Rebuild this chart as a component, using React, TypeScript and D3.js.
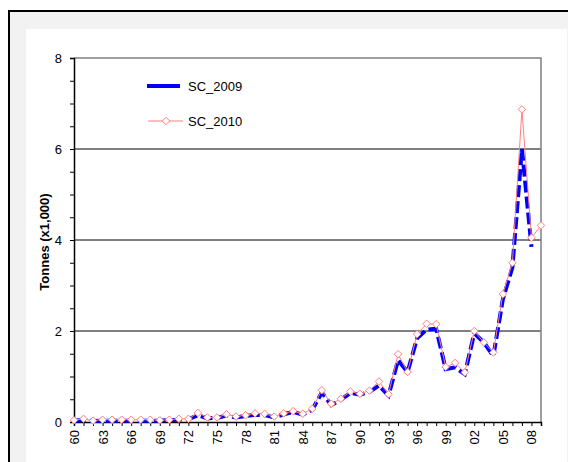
import * as d3 from 'd3';
import React, { useEffect, useRef } from 'react';

const years = d3.range(1960, 2010);

const sc2010 = [
	0.04, 0.07, 0.03, 0.05, 0.05, 0.05, 0.05, 0.05, 0.05, 0.04,
	0.05, 0.07, 0.07, 0.2, 0.1, 0.1, 0.17, 0.12, 0.15, 0.19,
	0.18, 0.12, 0.19, 0.24, 0.18, 0.29, 0.7, 0.4, 0.51, 0.67,
	0.62, 0.69, 0.89, 0.61, 1.49, 1.1, 1.93, 2.16, 2.15, 1.21,
	1.3, 1.09, 2.0, 1.75, 1.53, 2.81, 3.5, 6.87, 4.05, 4.32,
];

const sc2009 = [
	0.03, 0.05, 0.02, 0.03, 0.03, 0.03, 0.03, 0.03, 0.03, 0.03,
	0.04, 0.05, 0.06, 0.15, 0.08, 0.09, 0.14, 0.1, 0.13, 0.16,
	0.15, 0.1, 0.17, 0.22, 0.16, 0.27, 0.65, 0.37, 0.49, 0.64,
	0.6, 0.66, 0.8, 0.58, 1.36, 1.1, 1.84, 2.03, 2.05, 1.16,
	1.2, 1.05, 1.95, 1.75, 1.45, 2.7, 3.4, 6.0, 3.85,
];

const yTicks = [0, 2, 4, 6, 8];

const seriesNames = ['SC_2009', 'SC_2010'];

export default function App(): React.JSX.Element {
	const ref = useRef<SVGSVGElement | null>(null);

	useEffect(() => {
		if (ref.current === null) return;
		const svg = d3.select(ref.current);
		svg.selectAll('*').remove();

		const margin = { top: 58, right: 27, bottom: 40, left: 74 };
		const width = 568;

		// chart frame
		svg.append('rect')
			.attr('x', 9).attr('y', 11)
			.attr('width', 600).attr('height', 500)
			.attr('fill', '#f2f2f2')
			.attr('stroke', '#000')
			.attr('stroke-width', 2);
		svg.append('rect')
			.attr('x', 26).attr('y', 29)
			.attr('width', 541).attr('height', 480)
			.attr('fill', '#fff');

		const x = d3.scaleLinear()
			.domain([1960, 2009])
			.range([margin.left, width - margin.right]);
		const y = d3.scaleLinear()
			.domain([0, 8])
			.range([422, margin.top]);

		// gridlines
		svg.append('g')
			.selectAll('line')
			.data(yTicks.filter(t => t > 0 && t < 8))
			.enter()
			.append('line')
			.attr('x1', margin.left).attr('x2', x(2009))
			.attr('y1', d => y(d)).attr('y2', d => y(d))
			.attr('stroke', '#000')
			.attr('stroke-width', 1);

		// plot border top/right
		svg.append('path')
			.attr('d', `M${margin.left},${y(8)}H${x(2009)}V${y(0)}`)
			.attr('fill', 'none')
			.attr('stroke', '#808080')
			.attr('stroke-width', 1.5);

		const font = 'Arial, "Liberation Sans", sans-serif';

		// y axis
		const yAxis = svg.append('g')
			.attr('transform', `translate(${margin.left},0)`)
			.call(d3.axisLeft(y).tickValues(d3.range(0, 8.01, 0.5)).tickSize(4).tickFormat(() => ''));
		yAxis.select('.domain').attr('stroke', '#000').attr('stroke-width', 1.5);
		yAxis.selectAll('.tick line').attr('stroke', '#000');
		svg.append('g')
			.selectAll('text')
			.data(yTicks)
			.enter()
			.append('text')
			.attr('x', 62)
			.attr('y', d => y(d))
			.attr('dy', '0.35em')
			.attr('text-anchor', 'end')
			.attr('font-family', font)
			.attr('font-size', 13)
			.text(d => d);

		// x axis
		const xAxis = svg.append('g')
			.attr('transform', `translate(0,${y(0)})`)
			.call(d3.axisBottom(x).tickValues(years).tickSize(4).tickFormat(() => ''));
		xAxis.select('.domain').attr('stroke', '#000').attr('stroke-width', 1.5);
		xAxis.selectAll('.tick line').attr('stroke', '#000');
		svg.append('g')
			.selectAll('text')
			.data(years.filter((_, i) => i % 3 === 0))
			.enter()
			.append('text')
			.attr('transform', d => `translate(${x(d) + 5},430) rotate(-90)`)
			.attr('text-anchor', 'end')
			.attr('font-family', font)
			.attr('font-size', 13)
			.text(d => String(d).slice(2));

		// y title
		svg.append('text')
			.attr('transform', `translate(49,${(y(0) + y(8)) / 2 + 2}) rotate(-90)`)
			.attr('text-anchor', 'middle')
			.attr('font-family', font)
			.attr('font-size', 13)
			.attr('font-weight', 'bold')
			.text('Tonnes (x1,000)');

		const line = d3.line<number>()
			.x((_, i) => x(years[i]))
			.y(d => y(d));

		svg.append('path')
			.datum(sc2009)
			.attr('d', line)
			.attr('fill', 'none')
			.attr('stroke', '#0000ff')
			.attr('stroke-width', 4)
			.attr('stroke-dasharray', '12,4');

		svg.append('path')
			.datum(sc2010)
			.attr('d', line)
			.attr('fill', 'none')
			.attr('stroke', '#ff8080')
			.attr('stroke-width', 1);

		const diamond = d3.symbol().type(d3.symbolDiamond2).size(36);
		svg.append('g')
			.selectAll('path')
			.data(sc2010)
			.enter()
			.append('path')
			.attr('d', diamond)
			.attr('transform', (d, i) => `translate(${x(years[i])},${y(d)})`)
			.attr('fill', '#fff')
			.attr('stroke', '#ff8080')
			.attr('stroke-width', 1);

		// legend
		const legend = svg.append('g');
		legend.append('line')
			.attr('x1', 147).attr('x2', 180)
			.attr('y1', 86).attr('y2', 86)
			.attr('stroke', '#0000ff').attr('stroke-width', 4);
		legend.append('line')
			.attr('x1', 148).attr('x2', 183)
			.attr('y1', 121).attr('y2', 121)
			.attr('stroke', '#ff8080').attr('stroke-width', 1);
		legend.append('path')
			.attr('d', diamond)
			.attr('transform', 'translate(166,121)')
			.attr('fill', '#fff')
			.attr('stroke', '#ff8080');
		legend.selectAll('text')
			.data(seriesNames)
			.enter()
			.append('text')
			.attr('x', 188)
			.attr('y', (_, i) => 86 + i * 35)
			.attr('dy', '0.35em')
			.attr('font-family', font)
			.attr('font-size', 13)
			.text(d => d);
	}, []);

	return (
		<svg ref={ref} width={568} height={462} style={{ position: 'absolute', left: 0, top: 0 }} />
	);
}
